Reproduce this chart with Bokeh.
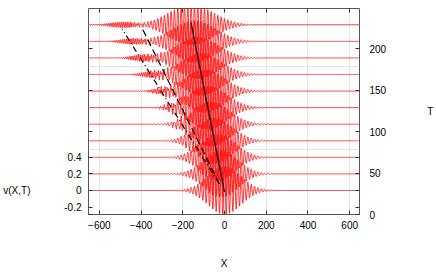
import numpy as np
from bokeh.plotting import figure
from bokeh.models import Range1d, LinearAxis, FixedTicker, ColumnDataSource
from bokeh.embed import file_html
from bokeh.resources import INLINE

# ---- data ----
trace_v = [0.0, 0.2, 0.4, 0.6, 0.8, 1.0, 1.2, 1.4, 1.6, 1.8, 2.0]   # baseline offset of each trace
main_center = [0, -16, -32, -48, -64, -80, -96, -112, -128, -144, -160]
main_amp = [0.29, 0.285, 0.28, 0.275, 0.27, 0.265, 0.26, 0.255, 0.25, 0.25, 0.245]
main_sigma = [78, 80, 83, 85, 88, 90, 93, 96, 99, 102, 105]
main_wavelength = 16.0
sec_center = [-20, -60, -100, -145, -190, -235, -285, -335, -385, -435, -485]
sec_amp = [0.0, 0.01, 0.02, 0.03, 0.035, 0.04, 0.04, 0.04, 0.04, 0.035, 0.035]
sec_sigma = [20, 25, 30, 35, 40, 45, 50, 55, 58, 60, 62]
sec_wavelength = 9.0

solid_x = [0, -160]
solid_v = [-0.02, 2.02]
dash_x = [-25, -397]
dash_v = [0.08, 1.97]
dashdot_x = [-25, -491]
dashdot_v = [0.08, 1.95]

x_ticks = [-600, -400, -200, 0, 200, 400, 600]
v_ticks = [-0.2, 0, 0.2, 0.4]
v_labels = {-0.2: "-0.2", 0: "0", 0.2: "0.2", 0.4: "0.4"}
t_ticks = [0, 50, 100, 150, 200]

# ---- build traces ----
xs_grid = np.arange(-652, 648, 0.8)
xs, ys = [], []
for k, base in enumerate(trace_v):
    d1 = xs_grid - main_center[k]
    w = main_amp[k] * np.exp(-d1**2 / (2 * main_sigma[k]**2)) * np.cos(2 * np.pi * d1 / main_wavelength)
    d2 = xs_grid - sec_center[k]
    w += sec_amp[k] * np.exp(-d2**2 / (2 * sec_sigma[k]**2)) * np.cos(2 * np.pi * d2 / sec_wavelength)
    xs.append(xs_grid)
    ys.append(base + w)
src = ColumnDataSource(dict(xs=xs, ys=ys))

FONT = "Liberation Sans"
FS = "10px"

p = figure(width=436, height=272, x_range=Range1d(-652, 647), y_range=Range1d(-0.29, 2.197),
           output_backend="svg", toolbar_location=None,
           x_axis_location=None, y_axis_location=None,
           min_border_left=86, min_border_right=75, min_border_top=8, min_border_bottom=58)
p.extra_y_ranges = {"T": Range1d(0, 248.6)}
p.outline_line_color = "#555555"
p.outline_line_width = 1
p.background_fill_color = "white"
p.border_fill_color = "white"

def style(ax, labels=True):
    ax.major_tick_in = 4
    ax.major_tick_out = 0
    ax.minor_tick_line_color = None
    ax.axis_line_color = None
    ax.major_tick_line_color = "#333333"
    ax.major_label_text_font = FONT
    ax.major_label_text_color = "black"
    ax.axis_label_text_font = FONT
    ax.axis_label_text_font_style = "normal"
    ax.axis_label_text_font_size = FS
    ax.axis_label_text_color = "black"
    if labels:
        ax.major_label_text_font_size = FS
    else:
        ax.major_label_text_font_size = "0px"
        ax.major_label_standoff = 0
    return ax

xb = style(LinearAxis(ticker=FixedTicker(ticks=x_ticks), axis_label="X"))
xb.major_label_standoff = 6
xb.axis_label_standoff = 26
p.add_layout(xb, "below")

xt = style(LinearAxis(ticker=FixedTicker(ticks=x_ticks)), labels=False)
p.add_layout(xt, "above")

tmirror = style(LinearAxis(ticker=FixedTicker(ticks=t_ticks), y_range_name="T"), labels=False)
p.add_layout(tmirror, "left")
vl = style(LinearAxis(ticker=FixedTicker(ticks=v_ticks), major_label_overrides=v_labels))
vl.major_label_standoff = 7
p.add_layout(vl, "left")

# outer left axis that only carries the horizontal "v(X,T)" title, pushed down by blank lines
vtitle = style(LinearAxis(ticker=FixedTicker(ticks=[]), axis_label="\n" * 12 + "v(X,T)"),
               labels=False)
vtitle.major_tick_in = 0
vtitle.axis_label_orientation = "horizontal"
vtitle.axis_label_standoff = 31
p.add_layout(vtitle, "left")

vmirror = style(LinearAxis(ticker=FixedTicker(ticks=v_ticks)), labels=False)
p.add_layout(vmirror, "right")
tr = style(LinearAxis(ticker=FixedTicker(ticks=t_ticks), y_range_name="T", axis_label="T"))
tr.major_label_standoff = 10
tr.axis_label_standoff = 38
tr.axis_label_orientation = "horizontal"
p.add_layout(tr, "right")

p.multi_line(xs="xs", ys="ys", source=src, line_color="#ff0000", line_width=0.8)
p.line(solid_x, solid_v, line_color="black", line_width=1.2)
p.line(dash_x, dash_v, line_color="black", line_width=1.2, line_dash="7 4")
p.line(dashdot_x, dashdot_v, line_color="black", line_width=1.2, line_dash="6 3 1 3")

open("out.html", "w").write(file_html(p, INLINE))
